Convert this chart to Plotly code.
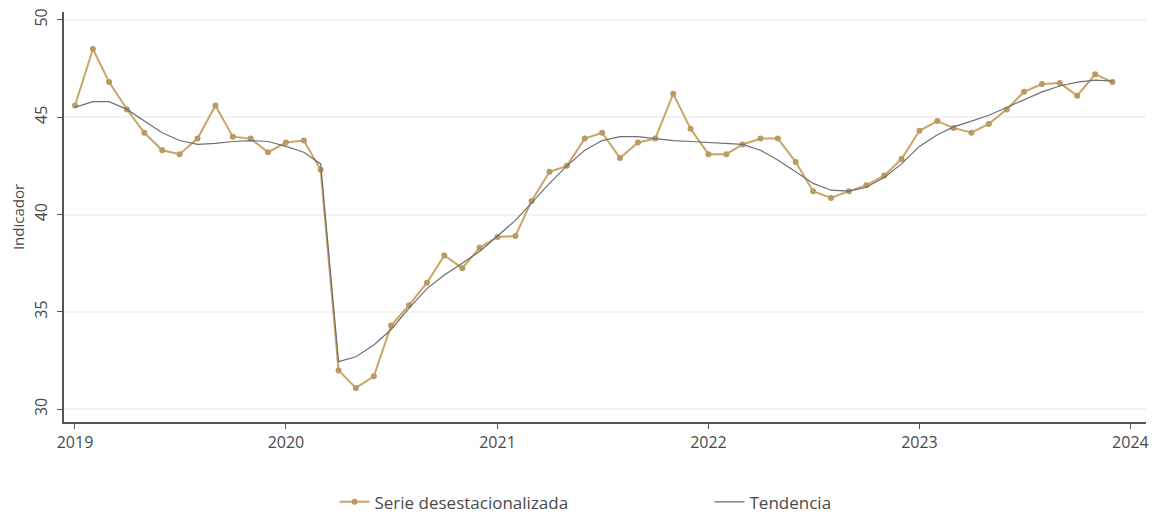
import pandas as pd
import plotly.graph_objects as go

# =========================
# DATA
# =========================
MONTHS = pd.date_range("2019-01-01", "2023-12-01", freq="MS")

SERIE = [
    45.6, 48.5, 46.8, 45.4, 44.2, 43.3, 43.1, 43.9, 45.6, 44.0, 43.9, 43.2,
    43.7, 43.8, 42.3, 32.0, 31.1, 31.7, 34.3, 35.35, 36.5, 37.9, 37.25, 38.3,
    38.85, 38.9, 40.7, 42.2, 42.5, 43.9, 44.2, 42.9, 43.7, 43.9, 46.2, 44.4,
    43.1, 43.1, 43.6, 43.9, 43.9, 42.7, 41.2, 40.85, 41.2, 41.5, 42.0, 42.85,
    44.3, 44.8, 44.45, 44.2, 44.65, 45.4, 46.3, 46.7, 46.75, 46.1, 47.2, 46.8,
]

TENDENCIA = [
    45.5, 45.8, 45.8, 45.4, 44.8, 44.2, 43.8, 43.6, 43.65, 43.75, 43.8, 43.75,
    43.5, 43.2, 42.6, 32.45, 32.7, 33.3, 34.1, 35.2, 36.2, 36.9, 37.5, 38.1,
    38.9, 39.7, 40.6, 41.6, 42.5, 43.3, 43.8, 44.0, 44.0, 43.9, 43.8, 43.75,
    43.7, 43.65, 43.6, 43.3, 42.8, 42.2, 41.6, 41.25, 41.2, 41.4, 41.9, 42.6,
    43.5, 44.1, 44.5, 44.8, 45.1, 45.5, 45.9, 46.3, 46.6, 46.8, 46.9, 46.85,
]

X_TICKS = ["2019-01-01", "2020-01-01", "2021-01-01", "2022-01-01", "2023-01-01", "2024-01-01"]
X_LABELS = ["2019", "2020", "2021", "2022", "2023", "2024"]
Y_TICKS = [30, 35, 40, 45, 50]

FONT = "Open Sans"
TEXT_COLOR = "#4a4a4a"
AXIS_COLOR = "#555555"

# =========================
# FIGURE
# =========================
# the page body has an 8px margin, so the figure is sized to fit inside the window
fig = go.Figure()

fig.add_trace(go.Scatter(
    x=MONTHS, y=SERIE,
    mode="lines+markers",
    name="Serie desestacionalizada",
    line=dict(color="#c9a566", width=2),
    marker=dict(color="#b89a62", size=6),
))

fig.add_trace(go.Scatter(
    x=MONTHS, y=TENDENCIA,
    mode="lines",
    name="Tendencia",
    line=dict(color="#6f6f6f", width=1.2),
))

fig.update_xaxes(
    range=["2018-12-13", "2024-01-28"],
    tickvals=X_TICKS, ticktext=X_LABELS,
    showgrid=False,
    showline=True, linecolor=AXIS_COLOR, linewidth=1.5,
    ticks="outside", ticklen=5, tickcolor=AXIS_COLOR,
    tickfont=dict(size=16, color=TEXT_COLOR),
    automargin=False,
)

fig.update_yaxes(
    range=[29.35, 50.4],
    tickvals=Y_TICKS,
    tickangle=-90,
    showgrid=True, gridcolor="#f2f2f2", gridwidth=2,
    zeroline=False,
    showline=True, linecolor=AXIS_COLOR, linewidth=1.5,
    ticks="outside", ticklen=5, tickcolor=AXIS_COLOR,
    tickfont=dict(size=16, color=TEXT_COLOR),
    ticklabelstandoff=4,
    title=dict(text="Indicador", font=dict(size=15, color=TEXT_COLOR), standoff=3),
    automargin=False,
)

fig.update_layout(
    width=1151, height=506,
    paper_bgcolor="white", plot_bgcolor="white",
    font=dict(family=FONT, color=TEXT_COLOR),
    margin=dict(l=56, r=13, t=4, b=92, autoexpand=False),
    showlegend=True,
    legend=dict(
        orientation="h",
        x=0.25, xanchor="left",
        y=-0.152, yanchor="top",
        font=dict(size=17, color=TEXT_COLOR),
        entrywidth=330, entrywidthmode="pixels",
    ),
)

fig.write_html("out.html")
